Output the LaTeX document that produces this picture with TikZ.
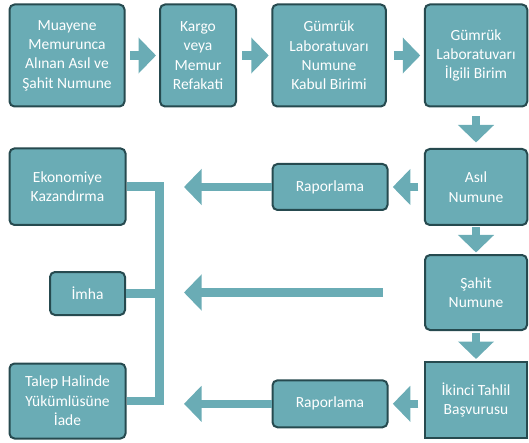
\documentclass[tikz,border=0pt]{standalone}
\usepackage{fontspec}
\setmainfont{Carlito}
\usetikzlibrary{arrows.meta}
\definecolor{tealfill}{RGB}{106,172,181}
\definecolor{tealedge}{RGB}{38,74,79}
\begin{document}
\begin{tikzpicture}[x=1pt,y=-1pt,
  box/.style={draw=tealedge, fill=tealfill, line width=2pt, rounded corners=5pt,
    text=white, align=center, inner sep=0pt,
    font=\fontsize{15.5}{19.4}\selectfont},
  sqbox/.style={box, rounded corners=0pt},
  blockarrow/.style={draw=tealfill, line width=8.4pt,
    -{Triangle[length=17.5pt,width=35pt]}},
  busline/.style={draw=tealfill, line width=8.4pt, line join=miter}]
\useasboundingbox (0,0) rectangle (529,443);
% top row
\node[box, minimum width=115pt, minimum height=102pt] (b1) at (67,55.5) {Muayene\\Memurunca\\Alınan Asıl ve\\Şahit Numune};
\node[box, minimum width=76pt, minimum height=102pt] (b2) at (198,55.5) {Kargo\\veya\\Memur\\Refakati};
\node[box, minimum width=113.5pt, minimum height=102pt] (b3) at (329,55.5) {Gümrük\\Laboratuvarı\\Numune\\Kabul Birimi};
\node[box, minimum width=102.5pt, minimum height=102pt] (b4) at (476,55.5) {Gümrük\\Laboratuvarı\\İlgili Birim};
% right column
\node[box, minimum width=102.5pt, minimum height=76pt] (asil) at (476,187) {Asıl\\Numune};
\node[box, minimum width=102pt, minimum height=75pt] (sahit) at (476,292.5) {Şahit\\Numune};
\node[sqbox, minimum width=102.5pt, minimum height=76pt] (ikinci) at (476,400) {İkinci Tahlil\\Başvurusu};
% raporlama
\node[box, minimum width=115pt, minimum height=46pt] (rap1) at (330,187) {Raporlama};
\node[box, minimum width=115pt, minimum height=47pt] (rap2) at (330,403.8) {Raporlama};
% left column
\node[box, minimum width=116pt, minimum height=76.6pt] (ekon) at (67.5,186.7) {Ekonomiye\\Kazandırma};
\node[box, minimum width=75pt, minimum height=43pt] (imha) at (87.5,293.5) {İmha};
\node[box, minimum width=116pt, minimum height=75pt] (talep) at (67.5,401) {Talep Halinde\\Yükümlüsüne\\İade};
% bus
\coordinate (bus) at (159.5,0);
\path[busline] (ekon.east) -- (bus |- ekon.east) -- (bus |- talep.east) -- (talep.east);
\path[busline] (imha.east) -- (bus |- imha.east);
% top arrows
\path[blockarrow, shorten <=4.5pt, shorten >=3pt] (b1.east) -- (b2.west);
\path[blockarrow, shorten <=5pt, shorten >=2.5pt] (b2.east) -- (b3.west);
\path[blockarrow, shorten <=7pt, shorten >=3.5pt] (b3.east) -- (b4.west);
% down arrows
\path[blockarrow, shorten <=9pt, shorten >=5.5pt] (b4.south) -- (asil.north);
\path[blockarrow, shorten <=1pt, shorten >=1.5pt] (asil.south) -- (sahit.north);
\path[blockarrow, shorten <=2pt, shorten >=2pt] (sahit.south) -- (ikinci.north);
% left arrows
\path[blockarrow, shorten <=5.5pt, shorten >=4.3pt] (asil.west) -- (rap1.east);
\path[blockarrow, shorten <=5.5pt, shorten >=4.3pt] (ikinci.west |- rap2.east) -- (rap2.east);
\path[blockarrow, shorten >=24.5pt] (rap1.west) -- (bus |- rap1.west);
\path[blockarrow, shorten <=41pt, shorten >=24.5pt] (sahit.west) -- (bus |- sahit.west);
\path[blockarrow, shorten >=24.5pt] (rap2.west) -- (bus |- rap2.west);
\end{tikzpicture}
\end{document}
